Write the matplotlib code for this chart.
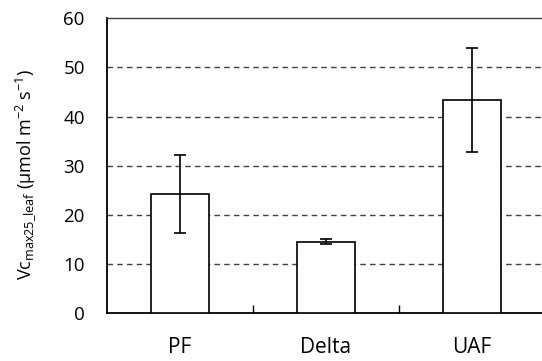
import matplotlib
matplotlib.use("Agg")
import matplotlib.pyplot as plt
import numpy as np

# Vcmax25 per site, mean and error
sites = ["PF", "Delta", "UAF"]
vcmax = [24.2, 14.6, 43.4]
vcmax_err = [7.9, 0.6, 10.5]

plt.rcParams["font.family"] = ["Open Sans", "DejaVu Sans"]
plt.rcParams["mathtext.fontset"] = "custom"
plt.rcParams["mathtext.rm"] = "Open Sans"
plt.rcParams["mathtext.it"] = "Open Sans"

fig = plt.figure(figsize=(5.42, 3.61), dpi=100)
W, H = 542.0, 361.0
# plot area runs slightly past the right edge of the figure
ax = fig.add_axes([107 / W, 1 - 313.3 / H, (545 - 107) / W, (313.3 - 18.3) / H])

x = np.arange(len(sites))
ax.bar(x, vcmax, width=0.4, color="white", edgecolor="black", linewidth=1.2, zorder=3)
ax.errorbar(x, vcmax, yerr=vcmax_err, fmt="none", ecolor="black",
            elinewidth=1.2, capsize=4.5, capthick=1.2, zorder=4)

ax.set_xlim(-0.5, len(sites) - 0.5)
ax.set_ylim(0, 60)
ax.set_yticks(range(0, 61, 10))
for yv in range(10, 60, 10):
    ax.axhline(yv, color="#404040", linestyle=(0, (4, 3)), linewidth=1.0, zorder=1)

ax.set_xticks(x)
ax.set_xticklabels(sites, fontsize=15)
ax.set_xticks([0.5, 1.5], minor=True)
ax.tick_params(axis="x", which="major", length=0, pad=17)
ax.tick_params(axis="x", which="minor", direction="in", length=6, width=1.0)
ax.tick_params(axis="y", length=0, pad=16, labelsize=13.5)

for side in ["left", "bottom"]:
    ax.spines[side].set_linewidth(1.3)
    ax.spines[side].set_color("black")
ax.spines["top"].set_color("#404040")
ax.spines["top"].set_linewidth(1.0)
ax.spines["right"].set_visible(False)

fig.text(26 / W, 1 - 174 / H,
         r"Vc$_{\mathrm{max25\_leaf}}$ (μmol m$^{\mathrm{-2}}$ s$^{\mathrm{-1}}$)",
         rotation=90, ha="center", va="center", fontsize=13)

fig.savefig("out.png", dpi=100)
